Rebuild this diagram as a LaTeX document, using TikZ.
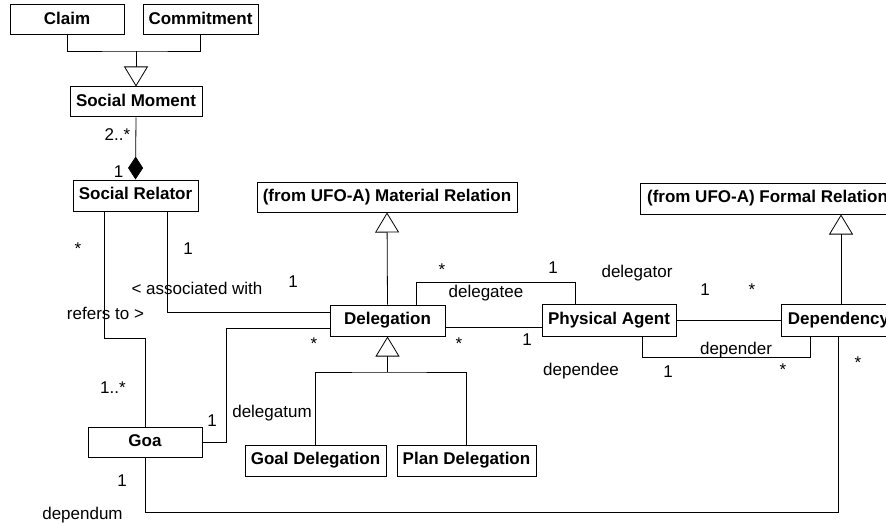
\documentclass[tikz,border=0pt]{standalone}
\usepackage{fontspec}
\setmainfont{Liberation Sans}
\usetikzlibrary{arrows.meta}
\begin{document}
\begin{tikzpicture}[x=1pt,y=-1pt,
  cls/.style 2 args={draw, line width=1pt, font=\fontsize{17}{20}\selectfont\bfseries,
    inner sep=0pt, minimum width=#1pt, minimum height=#2pt,
    text height=12pt, text depth=3.5pt},
  lbl/.style={anchor=base, inner sep=0pt, font=\fontsize{17}{20}\selectfont},
  conn/.style={line width=0.8pt},
  gen/.style={conn, -{Triangle[open, width=24pt, length=20pt, fill=white]}},
  comp/.style={conn, -{Diamond[width=15pt, length=23pt]}}]
\useasboundingbox (0,0) rectangle (886,524);

% classes
\node[cls={114}{30}] (claim)    at (67,20)      {Claim};
\node[cls={115}{30}] (commit)   at (200.5,20)   {Commitment};
\node[cls={132}{30}] (smoment)  at (136,102)    {Social Moment};
\node[cls={125}{31}] (srelator) at (135.5,195.5) {Social Relator};
\node[cls={260}{30}] (matrel)   at (387,197)    {(from UFO-A) Material Relation};
\node[cls={255}{31}] (formrel)  at (767.5,198.5) {(from UFO-A) Formal Relation};
\node[cls={115}{31}] (deleg)    at (387.5,320.5) {Delegation};
\node[cls={134}{32}] (agent)    at (609,320)    {Physical Agent};
\node[cls={115}{32}] (depend)   at (838.5,320)  {Dependency};
\node[cls={114}{30}] (goa)      at (145,442)    {Goa};
\node[cls={141}{31}] (goaldel)  at (315.5,460.5) {Goal Delegation};
\node[cls={139}{31}] (plandel)  at (466.5,460.5) {Plan Delegation};

% bend points
\coordinate (j1) at (136,51);
\coordinate (j2) at (387.5,372);
\coordinate (r1) at (104,338);
\coordinate (a1) at (167,312);
\coordinate (d1) at (226,328);
\coordinate (e1) at (416,282);
\coordinate (e2) at (575,282);
\coordinate (p1) at (500,327.5);
\coordinate (q1) at (642,357);
\coordinate (q2) at (810,357);
\coordinate (m1) at (838,512);
\coordinate (f1) at (841,304);

% generalizations
\draw[conn] (claim.south) |- (j1) -| (commit.south);
\draw[gen] (j1) -- (smoment.north);
\draw[gen] (deleg.north) -- (matrel.south);
\draw[conn] (goaldel.north) |- (j2) -| (plandel.north);
\draw[gen] (j2) -- (deleg.south);
\draw[gen] (f1) -- (f1 |- formrel.south);

% composition
\draw[comp] (smoment.south) -- (srelator.north);

% associations
\draw[conn] (srelator.south -| r1) -- (r1) -| (goa.north);
\draw[conn] (srelator.south -| a1) -- (a1) -- (a1 -| deleg.west);
\draw[conn] (goa.east) -| (d1) -- (d1 -| deleg.west);
\draw[conn] (deleg.north -| e1) -- (e1) -- (e2) -- (agent.north -| e2);
\draw[conn] (deleg.east |- p1) -- (agent.west |- p1);
\draw[conn] (agent.east) -- (agent.east -| depend.west);
\draw[conn] (agent.south -| q1) -- (q1) -- (q2) -- (depend.south -| q2);
\draw[conn] (depend.south -| m1) -- (m1) -| (goa.south);

% multiplicities and role names
\node[lbl] (l01) at (117.5,141) {2..*};
\node[lbl] (l02) at (118.5,177) {1};
\node[lbl] (l03) at (78,254)    {*};
\node[lbl] (l04) at (105.5,319) {refers to >};
\node[lbl] (l05) at (113,393)   {1..*};
\node[lbl] (l06) at (188,254)   {1};
\node[lbl] (l07) at (197,294)   {< associated with};
\node[lbl] (l08) at (293,287)   {1};
\node[lbl] (l09) at (212,426)   {1};
\node[lbl] (l10) at (272,417)   {delegatum};
\node[lbl] (l11) at (314,349)   {*};
\node[lbl] (l12) at (442,275)   {*};
\node[lbl] (l13) at (553,273)   {1};
\node[lbl] (l14) at (486,297)   {delegatee};
\node[lbl] (l15) at (459,349)   {*};
\node[lbl] (l16) at (527,345)   {1};
\node[lbl] (l17) at (637,277)   {delegator};
\node[lbl] (l18) at (705,295)   {1};
\node[lbl] (l19) at (752,295)   {*};
\node[lbl] (l20) at (736,354)   {depender};
\node[lbl] (l21) at (581,375)   {dependee};
\node[lbl] (l22) at (668,377)   {1};
\node[lbl] (l23) at (783,375)   {*};
\node[lbl] (l24) at (858,368)   {*};
\node[lbl] (l25) at (122,486)   {1};
\node[lbl] (l26) at (82.5,519)  {dependum};
\end{tikzpicture}
\end{document}
